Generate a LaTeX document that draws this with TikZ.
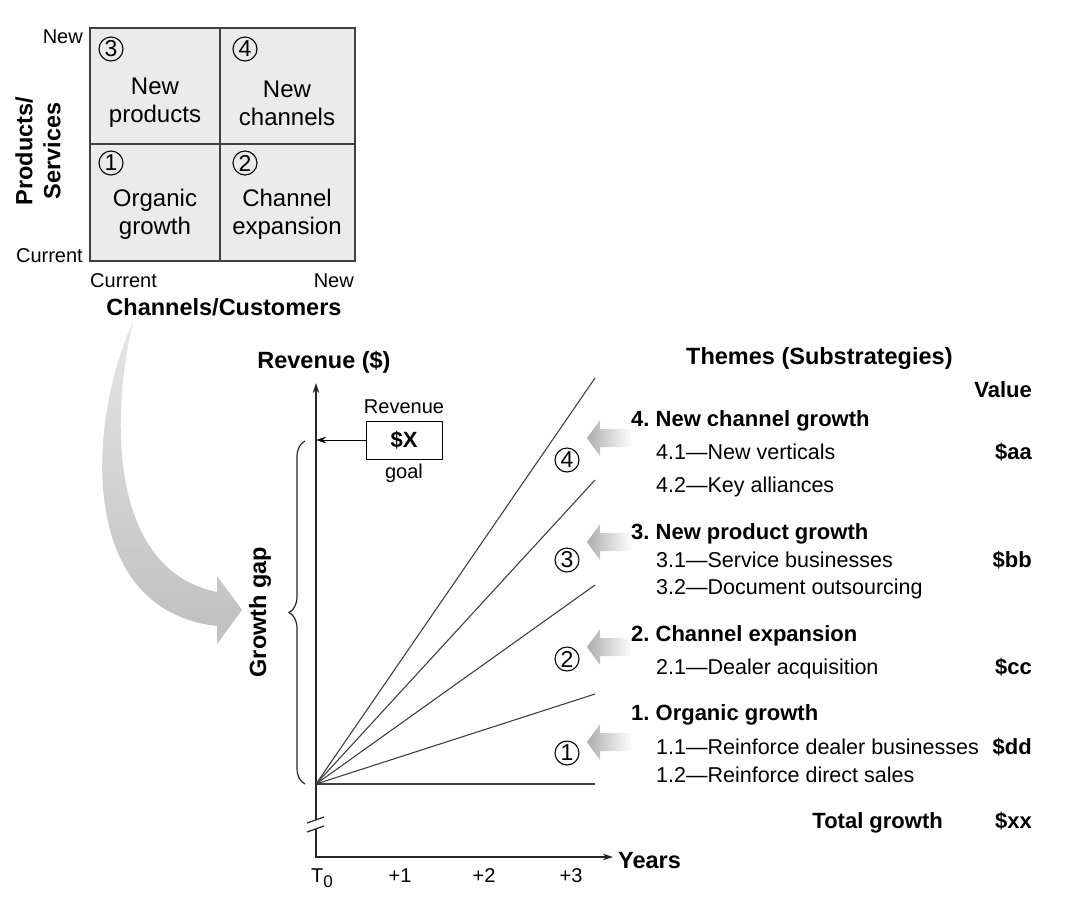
\documentclass[tikz,border=0pt]{standalone}
\usepackage{fontspec}
\setmainfont{Liberation Sans}
\usetikzlibrary{arrows.meta,decorations.pathreplacing}

\tikzset{
  lbl/.style={inner sep=0pt,font=\fontsize{20}{22}\selectfont},
  hd/.style={inner sep=0pt,font=\fontsize{23.5}{28}\selectfont\bfseries},
  cell/.style={inner sep=0pt,align=center,font=\fontsize{24}{28}\selectfont},
  theme/.style={inner sep=0pt,anchor=base west,font=\fontsize{22}{24}\selectfont\bfseries\frenchspacing},
  item/.style={inner sep=0pt,anchor=base west,font=\fontsize{21.5}{24}\selectfont},
  val/.style={inner sep=0pt,anchor=base east,font=\fontsize{22}{24}\selectfont\bfseries},
  num/.style={draw,circle,inner sep=0pt,minimum size=24,line width=1.1,font=\fontsize{23}{23}\selectfont},
  axis/.style={line width=1.2,black!85},
  ray/.style={line width=1.1,black!75}
}

\begin{document}
\begin{tikzpicture}[x=1pt,y=-1pt,>={Stealth[length=10pt,width=6.5pt]}]
\useasboundingbox (0,0) rectangle (1079,914);

% growth matrix
\draw[line width=1.2,draw=black!75,fill=black!8] (90,28) rectangle (355,261);
\draw[line width=1.2,draw=black!75] (220,28) -- (220,261) (90,144) -- (355,144);
\foreach \n/\x/\y in {3/111/49,4/245/49,1/111/163,2/245/163}
  \node[num] (m\n) at (\x,\y) {\n};
\node[cell] (q3) at (155,103) {New\\products};
\node[cell] (q4) at (287,103) {New\\channels};
\node[cell] (q1) at (155,214) {Organic\\growth};
\node[cell] (q2) at (287,214) {Channel\\expansion};
\node[lbl,anchor=base east] (pnew) at (83,43) {New};
\node[lbl,anchor=base east] (pcur) at (83,262) {Current};
\node[lbl,anchor=base west] (ccur) at (90,287) {Current};
\node[lbl,anchor=base east] (cnew) at (354,287) {New};
\node[hd,anchor=base] (chlbl) at (224,315) {Channels/Customers};
\node[hd,rotate=90,align=center] (pslbl) at (38,151) {Products/\\Services};

% big curved arrow
\shade[top color=black!10,bottom color=black!25]
  (133,322) .. controls (88,420) and (75,610) .. (217,626) -- (217,644) -- (242,610)
  -- (217,576) -- (217,592) .. controls (110,570) and (110,420) .. (133,322) -- cycle;

% revenue chart
\coordinate (O) at (316,784);
\coordinate (ytop) at (316,383);
\coordinate (brk1) at (316,820);
\coordinate (brk2) at (316,829);
\coordinate (corner) at (316,857);
\coordinate (xend) at (613,857);
\draw[axis,->] (O) -- (ytop);
\draw[axis] (O) -- (brk1);
\draw[axis,->] (brk2) -- (corner) -- (xend);
\draw[axis] (307,823) -- (324,817) (307,832) -- (324,826);
\foreach \yy in {784,694,585,480,378}
  \draw[ray] (O) -- (595,\yy);
\foreach \n/\y in {4/460,3/560,2/659,1/753}
  \node[num] (c\n) at (567,\y) {\n};
\draw[axis,decorate,decoration={brace,amplitude=16pt}] (305,784) -- (305,441);
\node[hd,rotate=90,anchor=base] (gap) at (266,612) {Growth gap};
\node[hd,anchor=base] (revlbl) at (324,368) {Revenue (\$)};
\node[hd,anchor=base west] (years) at (618,868) {Years};
\node[lbl,anchor=base] (t0) at (322,882) {T\raisebox{-5pt}{\fontsize{17}{17}\selectfont 0}};
\foreach \k/\x in {1/400,2/484,3/571}
  \node[lbl,anchor=base] (tk\k) at (\x,882) {+\k};

% revenue goal
\node[draw,line width=1,minimum width=76,minimum height=38,inner sep=0pt,
  font=\fontsize{22}{24}\selectfont\bfseries] (goal) at (404,440) {\$X};
\node[lbl,anchor=base] (goaltop) at (404,413) {Revenue};
\node[lbl,anchor=base] (goalbot) at (404,478) {goal};
\draw[line width=1,->] (goal.west) -- (goal.west -| ytop);

% themes
\foreach \y in {438,542,647,742}
  \shade[left color=black!32,right color=white]
    (587,\y) -- (600,\y-18) -- (600,\y-9) -- (632,\y-9) -- (632,\y+9) -- (600,\y+9) -- (600,\y+18) -- cycle;
\node[hd,anchor=base west] (themes) at (686,364) {Themes (Substrategies)};
\node[val] (value) at (1032,397) {Value};
\foreach \i/\y/\t in {4/426/4. New channel growth,3/539/3. New product growth,
    2/641/2. Channel expansion,1/720/1. Organic growth}
  \node[theme] (th\i) at (631,\y) {\t};
\foreach \i/\y/\t in {41/459/4.1—New verticals,42/492/4.2—Key alliances,
    31/567/3.1—Service businesses,32/594/3.2—Document outsourcing,
    21/674/2.1—Dealer acquisition,11/754/1.1—Reinforce dealer businesses,
    12/782/1.2—Reinforce direct sales}
  \node[item] (it\i) at (656,\y) {\t};
\foreach \v/\y in {aa/459,bb/567,cc/674,dd/754,xx/828}
  \node[val] (v\v) at (1032,\y) {\$\v};
\node[theme,anchor=base east] (total) at (943,828) {Total growth};
\end{tikzpicture}
\end{document}
